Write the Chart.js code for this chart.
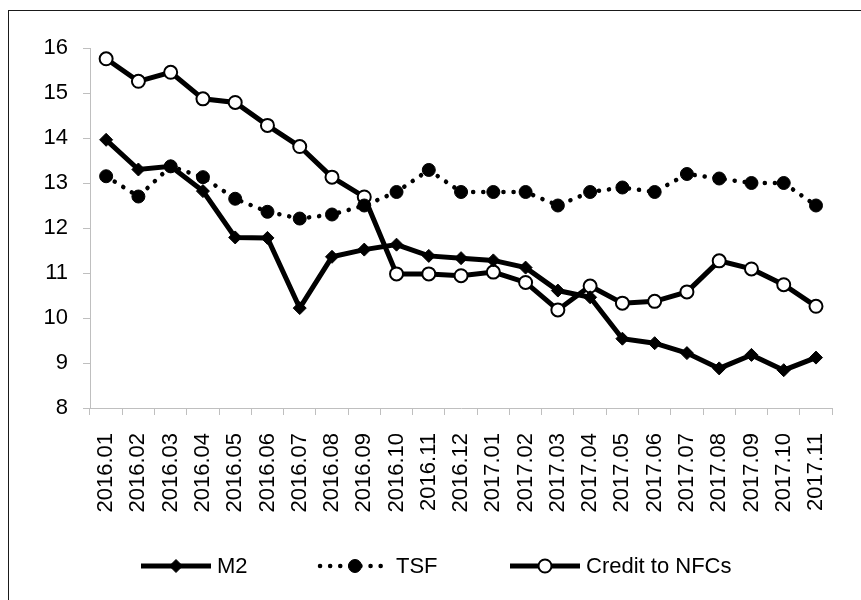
<!DOCTYPE html>
<html>
<head>
<meta charset="utf-8">
<title>M2, TSF and Credit to NFCs</title>
<script src="https://cdn.jsdelivr.net/npm/chart.js@4.4.1/dist/chart.umd.min.js"></script>
<style>
    html, body{
        margin:0;
        padding:0;
        background:#ffffff;
        overflow:hidden;
    }
    #frame{
        position:absolute;
        left:8px;
        top:10px;
        width:1000px;
        height:1000px;
        border-left:1px solid #1a1a1a;
        border-top:1px solid #1a1a1a;
    }
    #wrap{
        position:absolute;
        left:0;
        top:0;
        width:861px;
        height:600px;
    }
</style>
</head>
<body>

<div id="frame"></div>
<div id="wrap"><canvas id="growthChart"></canvas></div>

<script>

//======================================================
// DATA
//======================================================

const months = [
    "2016.01","2016.02","2016.03","2016.04","2016.05","2016.06",
    "2016.07","2016.08","2016.09","2016.10","2016.11","2016.12",
    "2017.01","2017.02","2017.03","2017.04","2017.05","2017.06",
    "2017.07","2017.08","2017.09","2017.10","2017.11"
];

const m2 = [
    13.96, 13.30, 13.37, 12.82, 11.79, 11.78,
    10.22, 11.36, 11.52, 11.63, 11.38, 11.33,
    11.28, 11.12, 10.61, 10.46, 9.54, 9.44,
    9.22, 8.88, 9.18, 8.84, 9.12
];

const tsf = [
    13.15, 12.70, 13.37, 13.13, 12.65, 12.36,
    12.21, 12.30, 12.50, 12.80, 13.29, 12.80,
    12.80, 12.80, 12.50, 12.80, 12.90, 12.80,
    13.20, 13.10, 13.00, 13.00, 12.50
];

const creditNFC = [
    15.76, 15.26, 15.46, 14.87, 14.79, 14.28,
    13.81, 13.13, 12.69, 10.98, 10.98, 10.94,
    11.02, 10.79, 10.18, 10.71, 10.33, 10.37,
    10.58, 11.27, 11.09, 10.74, 10.26
];

const seriesNames = ["M2", "TSF", "Credit to NFCs"];

const yMin = 8;
const yMax = 16;

//======================================================
// LEGEND (line + marker swatches, drawn under the axis)
//======================================================

const legendPlugin = {

    id:"lineLegend",

    afterDraw(chart){

        const ctx = chart.ctx;
        const y = 566;
        const starts = [141, 320, 510];
        const swatch = 70;

        ctx.save();

        ctx.font = "22px 'Liberation Sans', Arial, sans-serif";
        ctx.textBaseline = "middle";
        ctx.fillStyle = "#000000";

        chart.data.datasets.forEach(function(ds, i){

            const x0 = starts[i];
            const cx = x0 + swatch / 2;

            // line part
            ctx.beginPath();
            ctx.strokeStyle = "#000000";
            ctx.lineWidth = ds.borderWidth;
            ctx.lineCap = ds.borderDash ? "round" : "butt";
            ctx.setLineDash(ds.borderDash || []);
            ctx.moveTo(x0, y);
            ctx.lineTo(x0 + swatch, y);
            ctx.stroke();
            ctx.setLineDash([]);

            // marker part
            const r = ds.pointRadius;
            ctx.beginPath();

            if(ds.pointStyle === "rectRot"){
                ctx.moveTo(cx, y - r);
                ctx.lineTo(cx + r, y);
                ctx.lineTo(cx, y + r);
                ctx.lineTo(cx - r, y);
                ctx.closePath();
            }
            else{
                ctx.arc(cx, y, r, 0, Math.PI * 2);
            }

            ctx.fillStyle = ds.pointBackgroundColor;
            ctx.fill();
            ctx.lineWidth = ds.pointBorderWidth;
            ctx.strokeStyle = "#000000";
            ctx.stroke();

            ctx.fillStyle = "#000000";
            ctx.fillText(seriesNames[i], x0 + swatch + 6, y + 1);

        });

        ctx.restore();

    }

};

//======================================================
// CHART
//======================================================

const axisGray = "#bfbfbf";
const labelFont = { family:"'Liberation Sans', Arial, sans-serif", size:22 };

const ctx = document.getElementById("growthChart").getContext("2d");

new Chart(ctx,{

    type:"line",

    data:{

        labels:months,

        datasets:[
            {
                label:seriesNames[0],
                data:m2,
                borderColor:"#000000",
                borderWidth:5,
                pointStyle:"rectRot",
                pointRadius:6.5,
                pointBackgroundColor:"#000000",
                pointBorderColor:"#000000",
                pointBorderWidth:1,
                tension:0
            },
            {
                label:seriesNames[1],
                data:tsf,
                borderColor:"#000000",
                borderWidth:4.5,
                borderDash:[0.1, 10],
                borderCapStyle:"round",
                pointStyle:"circle",
                pointRadius:6.5,
                pointBackgroundColor:"#000000",
                pointBorderColor:"#000000",
                pointBorderWidth:1,
                tension:0
            },
            {
                label:seriesNames[2],
                data:creditNFC,
                borderColor:"#000000",
                borderWidth:5,
                pointStyle:"circle",
                pointRadius:6.5,
                pointBackgroundColor:"#ffffff",
                pointBorderColor:"#000000",
                pointBorderWidth:2,
                tension:0
            }
        ]

    },

    options:{

        responsive:true,

        maintainAspectRatio:false,

        animation:false,

        layout:{
            padding:{ left:0, top:48, right:28, bottom:0 }
        },

        plugins:{

            legend:{ display:false },

            tooltip:{ enabled:false }

        },

        scales:{

            x:{

                offset:true,

                afterFit:function(scale){ scale.height = 192; },

                grid:{
                    offset:true,
                    drawOnChartArea:false,
                    drawTicks:true,
                    tickLength:7,
                    color:axisGray
                },

                border:{ color:axisGray, width:1 },

                ticks:{
                    autoSkip:false,
                    maxRotation:90,
                    minRotation:90,
                    padding:18,
                    color:"#000000",
                    font:labelFont
                }

            },

            y:{

                min:yMin,

                max:yMax,

                afterFit:function(scale){ scale.width = 90; },

                grid:{
                    drawOnChartArea:false,
                    drawTicks:true,
                    tickLength:7,
                    color:axisGray
                },

                border:{ color:axisGray, width:1 },

                ticks:{
                    stepSize:1,
                    padding:15,
                    color:"#000000",
                    font:labelFont
                }

            }

        }

    },

    plugins:[legendPlugin]

});

</script>
</body>
</html>
